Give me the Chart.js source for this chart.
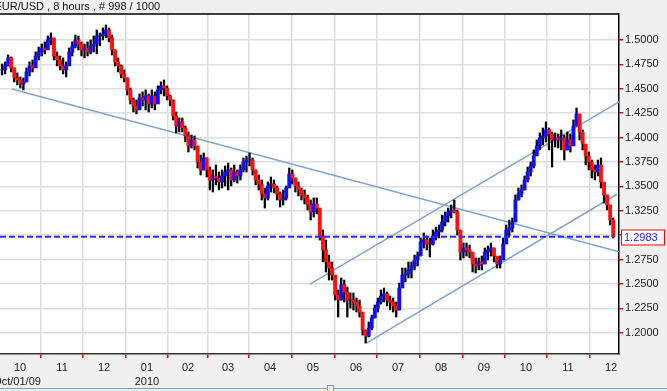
<!DOCTYPE html>
<html><head><meta charset="utf-8">
<script src="https://cdn.jsdelivr.net/npm/chart.js@4/dist/chart.umd.min.js"></script>
<style>html,body{margin:0;padding:0;background:#f0f0f0;overflow:hidden}canvas{display:block}</style>
</head><body><canvas id="c" width="667" height="391"></canvas>
<script>
const titleText = 'EUR/USD , 8 hours , # 998 / 1000';
const barStep = 5;
const highs = [1.4754,1.4775,1.4846,1.4826,1.4713,1.4662,1.4621,1.4611,1.4713,1.4775,1.4795,1.4877,1.4928,1.4959,1.4980,1.5041,1.5072,1.5000,1.4877,1.4836,1.4816,1.4775,1.4918,1.4980,1.5051,1.5041,1.4980,1.4959,1.4980,1.5000,1.5041,1.5103,1.5072,1.5123,1.5154,1.5123,1.5051,1.4898,1.4816,1.4744,1.4693,1.4611,1.4508,1.4406,1.4385,1.4447,1.4467,1.4488,1.4447,1.4488,1.4467,1.4529,1.4570,1.4590,1.4529,1.4436,1.4385,1.4262,1.4201,1.4201,1.4119,1.4057,1.4026,1.4016,1.3873,1.3821,1.3842,1.3791,1.3698,1.3668,1.3719,1.3647,1.3668,1.3709,1.3739,1.3688,1.3719,1.3668,1.3719,1.3791,1.3811,1.3842,1.3791,1.3668,1.3616,1.3565,1.3483,1.3545,1.3596,1.3565,1.3504,1.3442,1.3463,1.3504,1.3688,1.3668,1.3586,1.3545,1.3483,1.3463,1.3411,1.3360,1.3381,1.3381,1.3258,1.3053,1.2950,1.2796,1.2725,1.2520,1.2438,1.2561,1.2540,1.2468,1.2407,1.2407,1.2356,1.2335,1.2130,1.2028,1.2110,1.2181,1.2284,1.2356,1.2438,1.2458,1.2417,1.2376,1.2356,1.2315,1.2509,1.2663,1.2663,1.2725,1.2725,1.2796,1.2827,1.2971,1.3022,1.2991,1.2971,1.3053,1.3083,1.3104,1.3206,1.3237,1.3278,1.3309,1.3360,1.3258,1.2971,1.2919,1.2919,1.2899,1.2786,1.2766,1.2766,1.2786,1.2868,1.2889,1.2919,1.2868,1.2766,1.2786,1.2971,1.3104,1.3155,1.3176,1.3411,1.3483,1.3514,1.3606,1.3698,1.3750,1.3873,1.3975,1.4047,1.4098,1.4160,1.4098,1.4057,1.4047,1.4037,1.4078,1.4026,1.4057,1.4037,1.4180,1.4303,1.4231,1.4078,1.3903,1.3852,1.3770,1.3719,1.3770,1.3791,1.3514,1.3411,1.3309,1.3176];
const lows = [1.4641,1.4652,1.4734,1.4672,1.4570,1.4539,1.4508,1.4488,1.4570,1.4631,1.4672,1.4734,1.4795,1.4836,1.4857,1.4918,1.4949,1.4795,1.4734,1.4693,1.4652,1.4621,1.4775,1.4836,1.4918,1.4898,1.4836,1.4816,1.4836,1.4857,1.4877,1.4857,1.4939,1.5000,1.5021,1.4980,1.4846,1.4734,1.4672,1.4611,1.4570,1.4436,1.4344,1.4262,1.4242,1.4303,1.4324,1.4283,1.4262,1.4303,1.4283,1.4385,1.4447,1.4426,1.4385,1.4324,1.4180,1.4047,1.4057,1.4057,1.3955,1.3852,1.3893,1.3873,1.3688,1.3616,1.3668,1.3596,1.3463,1.3442,1.3514,1.3463,1.3483,1.3504,1.3463,1.3504,1.3545,1.3534,1.3565,1.3647,1.3647,1.3709,1.3616,1.3514,1.3463,1.3360,1.3278,1.3360,1.3442,1.3432,1.3360,1.3288,1.3309,1.3360,1.3545,1.3524,1.3442,1.3401,1.3360,1.3319,1.3258,1.3155,1.3186,1.3217,1.2950,1.2725,1.2622,1.2540,1.2540,1.2335,1.2161,1.2335,1.2315,1.2161,1.2253,1.2233,1.2212,1.2161,1.1976,1.1894,1.1956,1.2028,1.2151,1.2212,1.2294,1.2315,1.2274,1.2233,1.2212,1.2161,1.2233,1.2468,1.2520,1.2561,1.2561,1.2643,1.2684,1.2827,1.2868,1.2848,1.2776,1.2899,1.2950,1.2971,1.3032,1.3094,1.3134,1.3176,1.3227,1.3001,1.2745,1.2766,1.2786,1.2766,1.2622,1.2612,1.2643,1.2643,1.2725,1.2745,1.2786,1.2725,1.2663,1.2663,1.2766,1.2950,1.2991,1.3032,1.3206,1.3360,1.3391,1.3463,1.3545,1.3606,1.3688,1.3821,1.3873,1.3924,1.3955,1.3873,1.3698,1.3903,1.3893,1.3873,1.3770,1.3873,1.3852,1.3975,1.4119,1.3975,1.3873,1.3719,1.3668,1.3586,1.3565,1.3606,1.3483,1.3329,1.3258,1.3104,1.2971];
const closes = [1.4693,1.4734,1.4816,1.4713,1.4611,1.4590,1.4549,1.4570,1.4672,1.4734,1.4713,1.4836,1.4877,1.4918,1.4898,1.5000,1.5021,1.4836,1.4795,1.4734,1.4693,1.4734,1.4877,1.4939,1.5000,1.4959,1.4898,1.4918,1.4877,1.4939,1.4959,1.5041,1.5041,1.5062,1.5103,1.5021,1.4898,1.4775,1.4734,1.4652,1.4611,1.4488,1.4385,1.4324,1.4283,1.4406,1.4385,1.4426,1.4344,1.4426,1.4344,1.4488,1.4529,1.4508,1.4426,1.4385,1.4221,1.4119,1.4160,1.4098,1.4016,1.3914,1.3975,1.3914,1.3750,1.3668,1.3791,1.3668,1.3565,1.3606,1.3586,1.3545,1.3606,1.3647,1.3668,1.3565,1.3647,1.3606,1.3668,1.3750,1.3770,1.3770,1.3668,1.3565,1.3524,1.3422,1.3381,1.3504,1.3524,1.3483,1.3422,1.3360,1.3381,1.3483,1.3627,1.3586,1.3504,1.3463,1.3411,1.3381,1.3309,1.3237,1.3319,1.3278,1.2991,1.2848,1.2725,1.2663,1.2591,1.2386,1.2335,1.2489,1.2417,1.2335,1.2335,1.2315,1.2274,1.2212,1.2028,1.1966,1.2048,1.2151,1.2253,1.2315,1.2376,1.2397,1.2335,1.2315,1.2274,1.2233,1.2458,1.2591,1.2602,1.2643,1.2684,1.2745,1.2786,1.2930,1.2950,1.2909,1.2909,1.2991,1.3032,1.3053,1.3134,1.3196,1.3237,1.3258,1.3237,1.3053,1.2827,1.2868,1.2848,1.2827,1.2704,1.2684,1.2725,1.2704,1.2827,1.2848,1.2868,1.2786,1.2704,1.2745,1.2909,1.3053,1.3073,1.3134,1.3360,1.3422,1.3463,1.3565,1.3647,1.3709,1.3811,1.3914,1.3996,1.4016,1.4078,1.4037,1.3975,1.3996,1.3975,1.3996,1.3873,1.3975,1.3914,1.4119,1.4242,1.4057,1.3934,1.3811,1.3750,1.3668,1.3647,1.3719,1.3545,1.3411,1.3309,1.3155,1.2983];
const lastPrice = 1.2983;
const monthTickBars = [29.5,98.2,166.9,237.2,304.3,369.8,438.5,508.8,579.2,647.9,718.3,788.6,857.3,926.0,996.4];
const monthLabels = ['10','11','12','01','02','03','04','05','06','07','08','09','10','11','12'];
const yearLabels = ['Oct/01/09','','','2010','','','','','','','','','','',''];
const trendDown = [{x:16,y:1.4498},{x:1009.5,y:1.2830}];
const channelUpper = [{x:503.9,y:1.2499},{x:1009.5,y:1.4365}];
const channelLower = [{x:596.7,y:1.1897},{x:1006.2,y:1.3419}];
const yAxisRange = {min:1.1782, max:1.5266, step:0.025, lastShown:1.5};

const FONT = "'Liberation Sans', Arial, sans-serif";
const opens = closes.map((c,i)=> i===0 ? c : closes[i-1]);
const xs = closes.map((_,i)=> i*barStep);
const xMin = -3.3, xMax = 1009.5;

const framePlugin = {
  id:'frame',
  beforeDraw(chart){
    const {ctx, chartArea:a} = chart;
    ctx.save();
    ctx.fillStyle = '#f0f0f0';
    ctx.fillRect(0,0,chart.width,chart.height);
    ctx.fillStyle = '#ffffff';
    ctx.fillRect(a.left,a.top,a.right-a.left,a.bottom-a.top);
    ctx.restore();
  },
  afterDraw(chart){
    const {ctx, chartArea:a, scales} = chart;
    ctx.save();
    ctx.strokeStyle = '#000';
    ctx.lineWidth = 1.5;
    ctx.beginPath(); ctx.moveTo(a.left, a.top); ctx.lineTo(a.right, a.top); ctx.stroke();
    ctx.fillStyle = '#111';
    ctx.font = '11px ' + FONT;
    ctx.textBaseline = 'middle';
    ctx.textAlign = 'left';
    ctx.fillText(titleText, -5.5, 7);
    // second-row date labels
    ctx.fillStyle = '#222';
    ctx.textAlign = 'center';
    yearLabels.forEach((t,i)=>{
      if(!t) return;
      const px = scales.x.getPixelForValue(monthTickBars[i]);
      ctx.fillText(t, i===0 ? px-3 : px, 381.5);
    });
    ctx.textAlign = 'left';
    // price box
    const py = Math.round(scales.y.getPixelForValue(lastPrice)) + 0.5;
    ctx.fillStyle = '#fff';
    ctx.fillRect(a.right+2.5, py-7.5, 43, 15);
    ctx.strokeStyle = '#ff0000';
    ctx.lineWidth = 1;
    ctx.strokeRect(a.right+2.5, py-7.5, 43, 15);
    ctx.fillStyle = '#2323ff';
    ctx.fillText(lastPrice.toFixed(4), a.right+5, py+0.5);
    // bottom bar
    ctx.strokeStyle = '#7d9cc0';
    ctx.lineWidth = 1;
    ctx.beginPath(); ctx.moveTo(0, 388.5); ctx.lineTo(chart.width, 388.5); ctx.stroke();
    ctx.fillStyle = '#e6edf6';
    ctx.fillRect(327.5, 385.5, 6, 6);
    ctx.strokeRect(327.5, 385.5, 6, 6);
    ctx.restore();
  }
};

new Chart(document.getElementById('c'), {
  type:'bar',
  data:{
    datasets:[
      {type:'line', data:[{x:xMin,y:lastPrice},{x:xs[xs.length-1],y:lastPrice}], borderColor:'#2a2aff', borderWidth:2, borderDash:[6,3], pointRadius:0, order:0},
      {type:'bar', data:xs.map((x,i)=>({x, y:[opens[i], closes[i]]})), backgroundColor: closes.map((c,i)=> c>=opens[i] ? '#1010ff' : '#ff1010'), barThickness:3.2, grouped:false, order:1},
      {type:'bar', data:xs.map((x,i)=>({x, y:[lows[i], highs[i]]})), backgroundColor:'#000000', barThickness:1.6, grouped:false, order:2},
      {type:'line', data:trendDown, borderColor:'#7ea4d2', borderWidth:1.5, pointRadius:0, order:3},
      {type:'line', data:channelUpper, borderColor:'#7ea4d2', borderWidth:1.5, pointRadius:0, order:3},
      {type:'line', data:channelLower, borderColor:'#7ea4d2', borderWidth:1.5, pointRadius:0, order:3}
    ]
  },
  options:{
    responsive:false, animation:false, devicePixelRatio:1, events:[],
    layout:{padding:{top:14,left:0,right:0,bottom:0}},
    plugins:{legend:{display:false}, tooltip:{enabled:false}},
    scales:{
      x:{type:'linear', min:xMin, max:xMax, offset:false, position:'bottom',
        afterBuildTicks:s=>{ s.ticks = monthTickBars.map(v=>({value:v})); },
        afterFit:s=>{ s.height = 37; },
        ticks:{autoSkip:false, maxRotation:0, minRotation:0, padding:3, color:'#222',
          font:{family:FONT, size:11},
          callback:(v,i)=> monthLabels[i]},
        grid:{color:'#dedede', lineWidth:1.5, tickColor:'#ff0000', tickLength:4, tickWidth:1.5},
        border:{display:true, color:'#333', width:1.5}
      },
      y:{type:'linear', position:'right', min:yAxisRange.min, max:yAxisRange.max,
        afterBuildTicks:s=>{ s.ticks = s.ticks.filter(t=> t.value <= yAxisRange.lastShown + 1e-6); },
        afterFit:s=>{ s.width = 48; },
        ticks:{stepSize:yAxisRange.step, includeBounds:false, padding:2, color:'#222',
          font:{family:FONT, size:11},
          callback:v=> Math.abs(v-1.3)<1e-6 ? '' : Number(v).toFixed(4)},
        grid:{color:'#dedede', lineWidth:1.5, tickColor:'#ff0000', tickLength:4, tickWidth:1.5},
        border:{display:true, color:'#000', width:1.5}
      }
    }
  },
  plugins:[framePlugin]
});
</script></body></html>
